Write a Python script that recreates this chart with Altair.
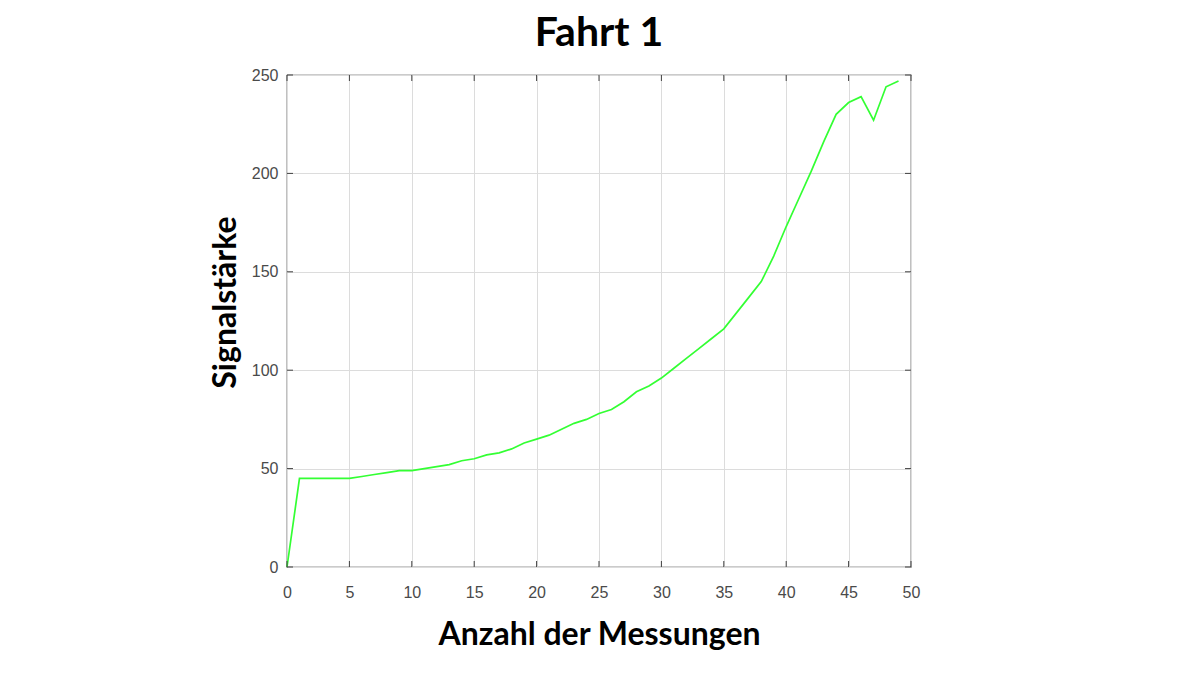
import altair as alt
import pandas as pd

messung = list(range(0, 50))
signal = [0, 45, 45, 45, 45, 45, 46, 47, 48, 49,
          49, 50, 51, 52, 54, 55, 57, 58, 60, 63,
          65, 67, 70, 73, 75, 78, 80, 84, 89, 92,
          96, 101, 106, 111, 116, 121, 129, 137, 145, 158,
          173, 187, 201, 216, 230, 236, 239, 227, 244, 247]

x_ticks = [0, 5, 10, 15, 20, 25, 30, 35, 40, 45, 50]
y_ticks = [0, 50, 100, 150, 200, 250]

df = pd.DataFrame({"m": messung, "s": signal})
W, H = 624, 492

xs = alt.Scale(domain=[0, 50], nice=False, zero=False)
ys = alt.Scale(domain=[0, 250], nice=False)

line = alt.Chart(df).mark_line(color="#33ff33", strokeWidth=1.7).encode(
    x=alt.X("m:Q", scale=xs, title="Anzahl der Messungen",
            axis=alt.Axis(values=x_ticks, grid=True, tickSize=0, labelPadding=17,
                          labelFlush=False,
                          titleBaseline="alphabetic", titleY=77)),
    y=alt.Y("s:Q", scale=ys, title="Signalstärke",
            axis=alt.Axis(values=y_ticks, grid=True, tickSize=0, labelPadding=9,
                          labelFlush=False,
                          titleBaseline="alphabetic", titleX=-52, titleY=227)),
)

xt = pd.DataFrame({"t": x_ticks})
yt = pd.DataFrame({"t": y_ticks})
tc = "#404040"
tick_b = alt.Chart(xt).mark_rule(color=tc, strokeWidth=1).encode(
    x=alt.X("t:Q", scale=xs), y=alt.value(H), y2=alt.value(H - 6))
tick_t = alt.Chart(xt).mark_rule(color=tc, strokeWidth=1).encode(
    x=alt.X("t:Q", scale=xs), y=alt.value(0), y2=alt.value(6))
tick_l = alt.Chart(yt).mark_rule(color=tc, strokeWidth=1).encode(
    y=alt.Y("t:Q", scale=ys), x=alt.value(0), x2=alt.value(6))
tick_r = alt.Chart(yt).mark_rule(color=tc, strokeWidth=1).encode(
    y=alt.Y("t:Q", scale=ys), x=alt.value(W), x2=alt.value(W - 6))

chart = alt.layer(line, tick_b, tick_t, tick_l, tick_r).properties(
    width=W, height=H,
    title=alt.TitleParams("Fahrt 1", fontSize=41, font="Lato", fontWeight="bold",
                          color="#000000", anchor="middle", offset=12),
    autosize=alt.AutoSizeParams(type="none"),
    padding={"left": 279, "top": 67, "right": 281, "bottom": 100},
).configure_view(
    stroke="#303030", strokeWidth=1.2
).configure_axis(
    domain=False,
    gridColor="#dcdcdc", gridWidth=1,
    labelFont="Liberation Sans", labelFontSize=16, labelColor="#4a4a4a",
    titleFont="Lato", titleFontSize=32, titleFontWeight="bold", titleColor="#000000",
)

chart.save("out.html", embed_options={"renderer": "svg", "actions": False})
